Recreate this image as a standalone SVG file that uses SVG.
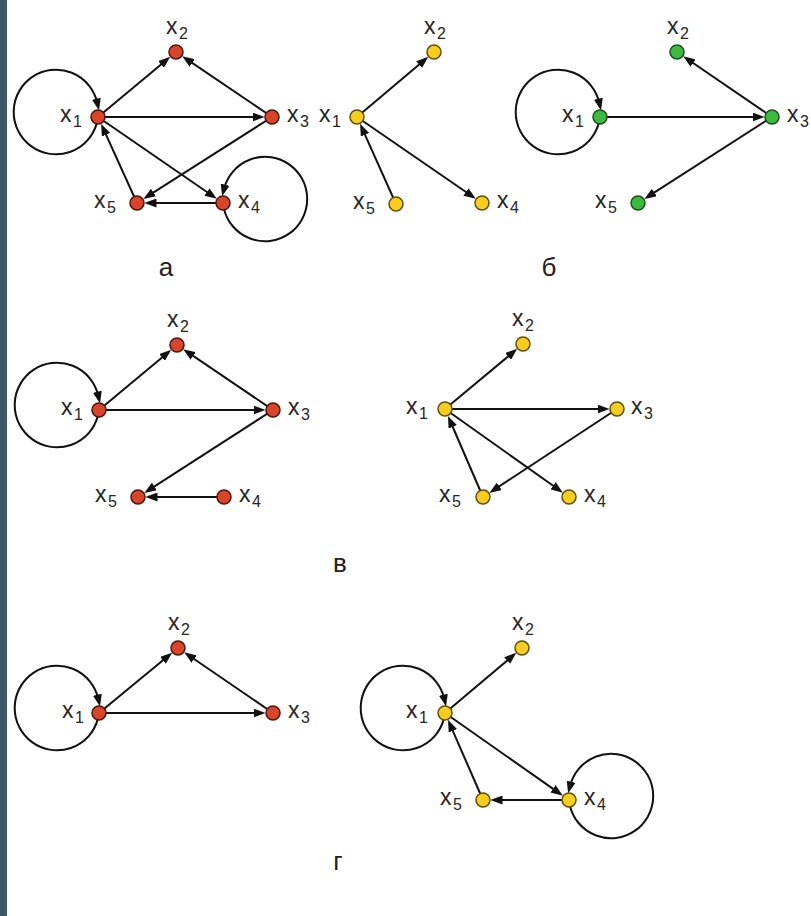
<svg xmlns="http://www.w3.org/2000/svg" width="811" height="916" viewBox="0 0 811 916">
<style>
.lbl{font-family:"Liberation Sans",Arial,sans-serif;font-size:23px;fill:#262626}
.sub{font-size:16px}
.cap{font-family:"Liberation Sans",Arial,sans-serif;font-size:26px;fill:#222;text-anchor:middle}
.e{fill:none;stroke:#111;stroke-width:2;marker-end:url(#ah)}
.r{fill:#d8452b;stroke:#4a160c;stroke-width:1.5}
.y{fill:#f7cd1e;stroke:#5e4e0c;stroke-width:1.5}
.g{fill:#3dbb40;stroke:#1b4f1c;stroke-width:1.5}
</style>
<defs>
<marker id="ah" viewBox="0 0 12 9" refX="4" refY="4.5" markerWidth="12" markerHeight="9" markerUnits="userSpaceOnUse" orient="auto">
<path d="M0,0 L12,4.5 L0,9 z" fill="#111"/>
</marker>
</defs>
<rect x="0" y="0" width="811" height="916" fill="#fff"/>
<rect x="0" y="0" width="7" height="916" fill="#3f5667"/>
<g id="connectors">
<!-- a -->
<path class="e" d="M96.74,123.37 A42.3,42.3 0 1 1 97.25,102.63"/>
<path class="e" d="M224.11,209.42 A42.2,42.2 0 1 0 224.10,188.61"/>
<path class="e" d="M98,117 L164.09,61.92"/>
<path class="e" d="M272,117 L188.83,60.69"/>
<path class="e" d="M98,117 L256.5,117"/>
<path class="e" d="M98,117 L210.23,194.21"/>
<path class="e" d="M272,117 L150.07,194.67"/>
<path class="e" d="M223,203 L152.5,203"/>
<path class="e" d="M137,203 L104.40,131.12"/>
<!-- b yellow -->
<path class="e" d="M357,117 L422.16,62.0"/>
<path class="e" d="M396,204 L363.34,131.14"/>
<path class="e" d="M357,117 L469.23,194.21"/>
<!-- b green -->
<path class="e" d="M598.74,123.37 A42.3,42.3 0 1 1 599.25,102.63"/>
<path class="e" d="M600,117 L756.5,117"/>
<path class="e" d="M772,117 L689.79,60.75"/>
<path class="e" d="M772,117 L651.04,194.63"/>
<!-- v left -->
<path class="e" d="M97.74,416.37 A42.3,42.3 0 1 1 98.25,395.63"/>
<path class="e" d="M99,410 L165.09,354.92"/>
<path class="e" d="M273,410 L189.83,353.69"/>
<path class="e" d="M99,410 L257.5,410"/>
<path class="e" d="M273,410 L151.03,488.60"/>
<path class="e" d="M224,497 L153.5,497"/>
<!-- v right -->
<path class="e" d="M445,409 L511.09,353.92"/>
<path class="e" d="M445,409 L601.5,409"/>
<path class="e" d="M445,409 L556.36,488.03"/>
<path class="e" d="M617,409 L495.96,488.49"/>
<path class="e" d="M483,497 L451.14,423.23"/>
<!-- g left -->
<path class="e" d="M97.74,719.37 A42.3,42.3 0 1 1 98.25,698.63"/>
<path class="e" d="M99,713 L166.03,657.85"/>
<path class="e" d="M273,713 L190.79,656.75"/>
<path class="e" d="M99,713 L257.5,713"/>
<!-- g right -->
<path class="e" d="M443.74,719.37 A42.3,42.3 0 1 1 444.25,698.63"/>
<path class="e" d="M570.11,806.42 A42.2,42.2 0 1 0 570.10,785.61"/>
<path class="e" d="M445,713 L510.16,658.0"/>
<path class="e" d="M445,713 L556.31,791.10"/>
<path class="e" d="M483,800 L451.20,727.20"/>
<path class="e" d="M569,800 L498.5,800"/>
</g>
<!-- graph a -->
<g id="a-x1"><circle class="r" cx="98" cy="117" r="7"/><text class="lbl" x="60" y="122">x<tspan class="sub" dx="1.5" dy="5">1</tspan></text></g>
<g id="a-x2"><circle class="r" cx="176" cy="52" r="7"/><text class="lbl" x="166" y="34">x<tspan class="sub" dx="1.5" dy="5">2</tspan></text></g>
<g id="a-x3"><circle class="r" cx="272" cy="117" r="7"/><text class="lbl" x="287" y="122">x<tspan class="sub" dx="1.5" dy="5">3</tspan></text></g>
<g id="a-x4"><circle class="r" cx="223" cy="203" r="7"/><text class="lbl" x="238" y="208">x<tspan class="sub" dx="1.5" dy="5">4</tspan></text></g>
<g id="a-x5"><circle class="r" cx="137" cy="203" r="7"/><text class="lbl" x="94" y="208">x<tspan class="sub" dx="1.5" dy="5">5</tspan></text></g>
<!-- graph b yellow -->
<g id="by-x1"><circle class="y" cx="357" cy="117" r="7"/><text class="lbl" x="319" y="122">x<tspan class="sub" dx="1.5" dy="5">1</tspan></text></g>
<g id="by-x2"><circle class="y" cx="434" cy="52" r="7"/><text class="lbl" x="424" y="34">x<tspan class="sub" dx="1.5" dy="5">2</tspan></text></g>
<g id="by-x4"><circle class="y" cx="482" cy="203" r="7"/><text class="lbl" x="497" y="208">x<tspan class="sub" dx="1.5" dy="5">4</tspan></text></g>
<g id="by-x5"><circle class="y" cx="396" cy="204" r="7"/><text class="lbl" x="353" y="209">x<tspan class="sub" dx="1.5" dy="5">5</tspan></text></g>
<!-- graph b green -->
<g id="bg-x1"><circle class="g" cx="600" cy="117" r="7"/><text class="lbl" x="562" y="122">x<tspan class="sub" dx="1.5" dy="5">1</tspan></text></g>
<g id="bg-x2"><circle class="g" cx="677" cy="52" r="7"/><text class="lbl" x="667" y="34">x<tspan class="sub" dx="1.5" dy="5">2</tspan></text></g>
<g id="bg-x3"><circle class="g" cx="772" cy="117" r="7"/><text class="lbl" x="787" y="122">x<tspan class="sub" dx="1.5" dy="5">3</tspan></text></g>
<g id="bg-x5"><circle class="g" cx="638" cy="203" r="7"/><text class="lbl" x="595" y="208">x<tspan class="sub" dx="1.5" dy="5">5</tspan></text></g>
<!-- graph v left -->
<g id="vl-x1"><circle class="r" cx="99" cy="410" r="7"/><text class="lbl" x="61" y="415">x<tspan class="sub" dx="1.5" dy="5">1</tspan></text></g>
<g id="vl-x2"><circle class="r" cx="177" cy="345" r="7"/><text class="lbl" x="167" y="327">x<tspan class="sub" dx="1.5" dy="5">2</tspan></text></g>
<g id="vl-x3"><circle class="r" cx="273" cy="410" r="7"/><text class="lbl" x="288" y="415">x<tspan class="sub" dx="1.5" dy="5">3</tspan></text></g>
<g id="vl-x4"><circle class="r" cx="224" cy="497" r="7"/><text class="lbl" x="239" y="502">x<tspan class="sub" dx="1.5" dy="5">4</tspan></text></g>
<g id="vl-x5"><circle class="r" cx="138" cy="497" r="7"/><text class="lbl" x="95" y="502">x<tspan class="sub" dx="1.5" dy="5">5</tspan></text></g>
<!-- graph v right -->
<g id="vr-x1"><circle class="y" cx="445" cy="409" r="7"/><text class="lbl" x="406" y="414">x<tspan class="sub" dx="1.5" dy="5">1</tspan></text></g>
<g id="vr-x2"><circle class="y" cx="523" cy="344" r="7"/><text class="lbl" x="512" y="326">x<tspan class="sub" dx="1.5" dy="5">2</tspan></text></g>
<g id="vr-x3"><circle class="y" cx="617" cy="409" r="7"/><text class="lbl" x="631" y="414">x<tspan class="sub" dx="1.5" dy="5">3</tspan></text></g>
<g id="vr-x4"><circle class="y" cx="569" cy="497" r="7"/><text class="lbl" x="584" y="502">x<tspan class="sub" dx="1.5" dy="5">4</tspan></text></g>
<g id="vr-x5"><circle class="y" cx="483" cy="497" r="7"/><text class="lbl" x="439" y="502">x<tspan class="sub" dx="1.5" dy="5">5</tspan></text></g>
<!-- graph g left -->
<g id="gl-x1"><circle class="r" cx="99" cy="713" r="7"/><text class="lbl" x="62" y="718">x<tspan class="sub" dx="1.5" dy="5">1</tspan></text></g>
<g id="gl-x2"><circle class="r" cx="178" cy="648" r="7"/><text class="lbl" x="168" y="630">x<tspan class="sub" dx="1.5" dy="5">2</tspan></text></g>
<g id="gl-x3"><circle class="r" cx="273" cy="713" r="7"/><text class="lbl" x="288" y="718">x<tspan class="sub" dx="1.5" dy="5">3</tspan></text></g>
<!-- graph g right -->
<g id="gr-x1"><circle class="y" cx="445" cy="713" r="7"/><text class="lbl" x="406" y="718">x<tspan class="sub" dx="1.5" dy="5">1</tspan></text></g>
<g id="gr-x2"><circle class="y" cx="522" cy="648" r="7"/><text class="lbl" x="512" y="630">x<tspan class="sub" dx="1.5" dy="5">2</tspan></text></g>
<g id="gr-x4"><circle class="y" cx="569" cy="800" r="7"/><text class="lbl" x="584" y="805">x<tspan class="sub" dx="1.5" dy="5">4</tspan></text></g>
<g id="gr-x5"><circle class="y" cx="483" cy="800" r="7"/><text class="lbl" x="440" y="805">x<tspan class="sub" dx="1.5" dy="5">5</tspan></text></g>
<!-- captions -->
<g id="captions">
<text class="cap" x="166" y="276">а</text>
<text class="cap" x="549" y="276">б</text>
<text class="cap" x="340" y="572">в</text>
<text class="cap" x="338" y="870">г</text>
</g>
</svg>
